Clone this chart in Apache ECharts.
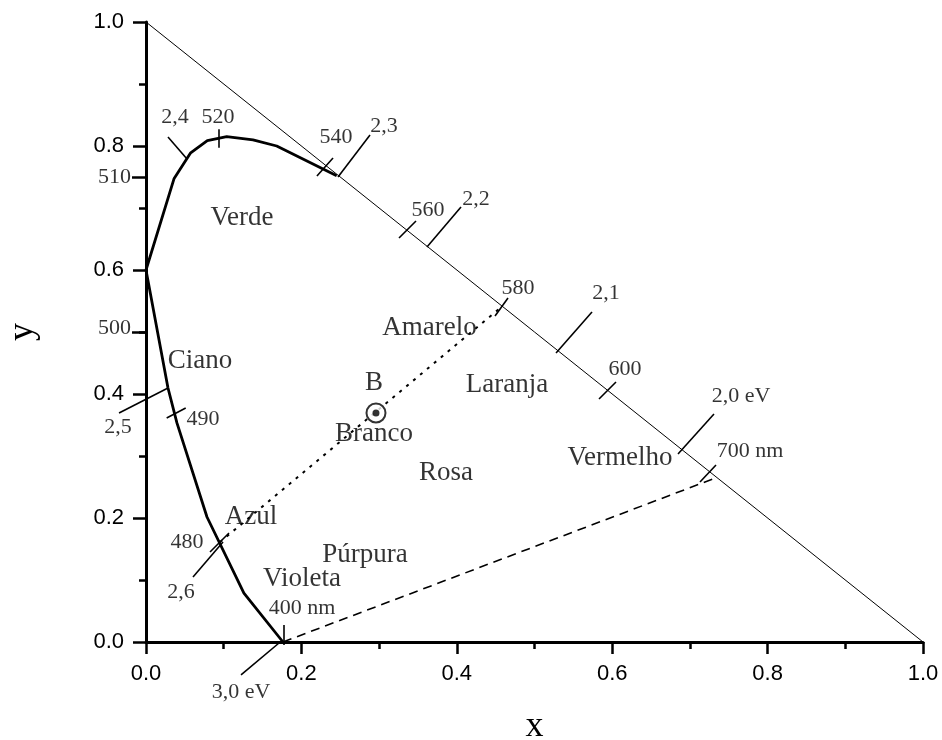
<!DOCTYPE html>
<html>
<head>
<meta charset="utf-8">
<script src="https://cdn.jsdelivr.net/npm/echarts@6/dist/echarts.min.js"></script>
<style>
html,body{margin:0;padding:0;background:#fff}
#chart{width:942px;height:740px}
</style>
</head>
<body>
<div id="chart"></div>
<script>
// curva espectral, de 540 nm (na diagonal) até 400 nm
const locusX = [0.2454, 0.1682, 0.1377, 0.1039, 0.0789, 0.0575, 0.036, 0, 0.0283, 0.0399, 0.0785, 0.126, 0.1763];
const locusY = [0.752, 0.800, 0.810, 0.815, 0.8085, 0.789, 0.747, 0.6, 0.4097, 0.353, 0.2016, 0.079, 0];

// diagonal x + y = 1
const diagX = [0, 1];
const diagY = [1, 0];

// linha das púrpuras (400 nm -> 700 nm)
const purpleX = [0.1763, 0.7347];
const purpleY = [0, 0.2653];

// linha 480 nm -> B -> 580 nm
const whiteLineX = [0.095, 0.4575];
const whiteLineY = [0.161, 0.5405];

// ponto branco B
const whiteX = 0.296;
const whiteY = 0.3694;

// marcas de comprimento de onda e energia [x1, y1, x2, y2]
const marks = [
  [0.093, 0.827, 0.093, 0.797],     // 520
  [0.0283, 0.8145, 0.0528, 0.779],  // 2,4
  [0.220, 0.7516, 0.2407, 0.7806],  // 540
  [0.2471, 0.75, 0.2883, 0.8177],   // 2,3
  [0.3256, 0.6516, 0.3475, 0.679],  // 560
  [0.3616, 0.6371, 0.4054, 0.7016], // 2,2
  [0.4492, 0.5258, 0.4659, 0.5548], // 580
  [0.5277, 0.4661, 0.574, 0.5323],  // 2,1
  [0.583, 0.392, 0.6049, 0.4194],   // 600
  [0.6847, 0.3032, 0.731, 0.3677],  // 2,0 eV
  [0.713, 0.258, 0.7336, 0.2855],   // 700 nm
  [-0.0347, 0.3694, 0.0283, 0.4097],// 2,5
  [0.0266, 0.3613, 0.0511, 0.3774], // 490
  [0.0824, 0.1452, 0.1068, 0.1758], // 480
  [0.0605, 0.1048, 0.0991, 0.1613], // 2,6
  [0.1767, 0.0274, 0.1767, -0.0048],// 400 nm
  [0.1223, -0.0532, 0.1712, -0.0016]// 3,0 eV
];
// marcas sobre o eixo y (510, 500)
const axisMarks = [
  [-0.018, 0.75, 0, 0.75],
  [-0.018, 0.5, 0, 0.5]
];

const markText = ['520', '2,4', '540', '2,3', '560', '2,2', '580', '2,1', '600', '2,0 eV', '700 nm',
  '2,5', '490', '480', '2,6', '400 nm', '3,0 eV', '510', '500'];
const markLabelX = [0.0927, 0.0373, 0.2445, 0.3063, 0.363, 0.4247, 0.4788, 0.592, 0.6165, 0.7658, 0.7773,
  -0.036, 0.0734, 0.0528, 0.045, 0.2008, 0.1223, -0.0405, -0.0405];
const markLabelY = [0.847, 0.847, 0.8145, 0.832, 0.697, 0.7145, 0.571, 0.563, 0.440, 0.397, 0.308,
  0.347, 0.36, 0.161, 0.0806, 0.0548, -0.0806, 0.75, 0.506];

const regionText = ['Verde', 'Ciano', 'Azul', 'Violeta', 'Púrpura', 'Branco', 'B', 'Rosa', 'Amarelo', 'Laranja', 'Vermelho'];
const regionX = [0.1236, 0.0695, 0.1351, 0.2008, 0.2819, 0.2934, 0.2934, 0.3861, 0.3649, 0.4646, 0.610];
const regionY = [0.684, 0.453, 0.2016, 0.1016, 0.1403, 0.3355, 0.4177, 0.2726, 0.5065, 0.4145, 0.2968];

const zip = (xs, ys) => xs.map((x, i) => [x, ys[i]]);

const serif = '"Liberation Serif", "Times New Roman", serif';

const myChart = echarts.init(document.getElementById('chart'));
myChart.setOption({
  animation: false,
  backgroundColor: '#fff',
  grid: { left: 146, right: 19, top: 22, bottom: 98, containLabel: false, outerBoundsMode: 'none' },
  xAxis: {
    type: 'value', min: 0, max: 1, interval: 0.2,
    name: 'x', nameLocation: 'middle', nameGap: 67,
    nameTextStyle: { fontFamily: serif, fontSize: 36, color: '#000' },
    axisLine: { lineStyle: { color: '#000', width: 3 } },
    axisTick: { length: 12, lineStyle: { color: '#000', width: 2.5 } },
    minorTick: { show: true, splitNumber: 2, length: 7, lineStyle: { color: '#000', width: 2.5 } },
    splitLine: { show: false },
    axisLabel: { margin: 21, fontFamily: '"Liberation Sans", Arial', fontSize: 22, color: '#000',
      formatter: v => v.toFixed(1) }
  },
  yAxis: {
    type: 'value', min: 0, max: 1, interval: 0.2,
    name: 'y', nameLocation: 'middle', nameGap: 105,
    nameTextStyle: { fontFamily: serif, fontSize: 36, color: '#000' },
    axisLine: { lineStyle: { color: '#000', width: 3 } },
    axisTick: { length: 13, lineStyle: { color: '#000', width: 2.5 } },
    minorTick: { show: true, splitNumber: 2, length: 7, lineStyle: { color: '#000', width: 2.5 } },
    splitLine: { show: false },
    axisLabel: { margin: 22, fontFamily: '"Liberation Sans", Arial', fontSize: 22, color: '#000',
      formatter: v => v.toFixed(1) }
  },
  series: [
    {
      name: 'diagonal', type: 'line', data: zip(diagX, diagY), symbol: 'none',
      lineStyle: { color: '#000', width: 1 }
    },
    {
      name: 'espectro', type: 'line', data: zip(locusX, locusY), symbol: 'none',
      lineStyle: { color: '#000', width: 2.8 }
    },
    {
      name: 'purpuras', type: 'line', data: zip(purpleX, purpleY), symbol: 'none',
      lineStyle: { color: '#000', width: 1.6, type: [9, 6] }
    },
    {
      name: 'branco', type: 'line', data: zip(whiteLineX, whiteLineY), symbol: 'none',
      lineStyle: { color: '#000', width: 2, type: [3, 6] }
    },
    {
      name: 'marcas', type: 'lines', coordinateSystem: 'cartesian2d', clip: false,
      data: marks.map(m => ({ coords: [[m[0], m[1]], [m[2], m[3]]] })),
      lineStyle: { color: '#000', width: 1.6, opacity: 1 }
    },
    {
      name: 'marcasEixo', type: 'lines', coordinateSystem: 'cartesian2d', clip: false,
      data: axisMarks.map(m => ({ coords: [[m[0], m[1]], [m[2], m[3]]] })),
      lineStyle: { color: '#000', width: 2.5, opacity: 1 }
    },
    {
      name: 'B', type: 'scatter', data: [[whiteX, whiteY]], symbol: 'emptyCircle', symbolSize: 19,
      itemStyle: { color: '#000', borderColor: '#000', borderWidth: 2.2 }, z: 5
    },
    {
      name: 'Bdot', type: 'scatter', data: [[whiteX, whiteY]], symbol: 'circle', symbolSize: 7,
      itemStyle: { color: '#000' }, z: 6
    },
    {
      name: 'rotulos', type: 'scatter', clip: false, symbolSize: 1,
      itemStyle: { color: 'rgba(0,0,0,0)' },
      data: markText.map((t, i) => ({ name: t, value: [markLabelX[i], markLabelY[i]] })),
      label: { show: true, position: 'inside', formatter: p => p.name, textBorderWidth: 0,
        fontFamily: serif, fontSize: 22, color: '#000' }
    },
    {
      name: 'regioes', type: 'scatter', clip: false, symbolSize: 1,
      itemStyle: { color: 'rgba(0,0,0,0)' },
      data: regionText.map((t, i) => ({ name: t, value: [regionX[i], regionY[i]] })),
      label: { show: true, position: 'inside', formatter: p => p.name, textBorderWidth: 0,
        fontFamily: serif, fontSize: 27, color: '#000' }
    }
  ]
});
</script>
</body>
</html>
